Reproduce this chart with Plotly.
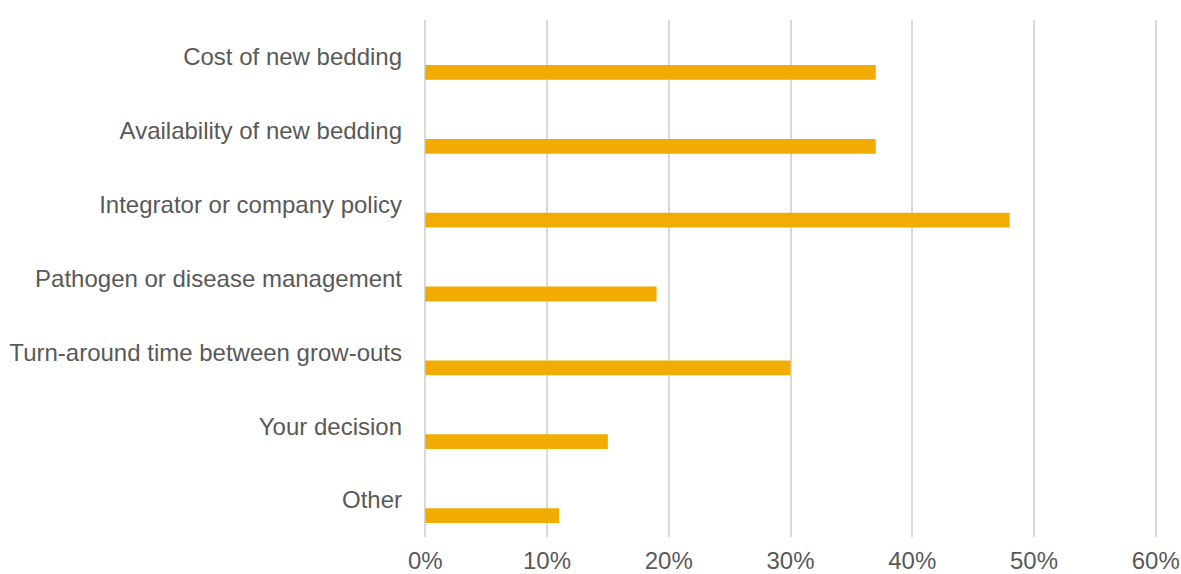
import plotly.graph_objects as go

categories = ["Cost of new bedding", "Availability of new bedding", "Integrator or company policy",
              "Pathogen or disease management", "Turn-around time between grow-outs",
              "Your decision", "Other"]
values = [37, 37, 48, 19, 30, 15, 11]
x_ticks = [0, 10, 20, 30, 40, 50, 60]
x_tick_labels = ["0%", "10%", "20%", "30%", "40%", "50%", "60%"]

fig = go.Figure()
fig.add_trace(go.Bar(
    y=categories, x=values, orientation="h",
    marker=dict(color="#f2ab00", line=dict(width=0)),
    width=0.2, offset=0.11,
    hoverinfo="x+y",
))
fig.update_layout(
    width=1181, height=574,
    margin=dict(l=424, r=24, t=20, b=37),
    paper_bgcolor="white", plot_bgcolor="white",
    font=dict(family="Liberation Sans, Arial, sans-serif", size=24, color="#595959"),
    showlegend=False,
    xaxis=dict(range=[-0.1, 60.1], tickvals=x_ticks, ticktext=x_tick_labels,
               showgrid=True, gridcolor="#d9d9d9", gridwidth=1.5,
               zeroline=True, zerolinecolor="#d9d9d9", zerolinewidth=1.5,
               showline=False, ticks="", ticklabelstandoff=7,
               automargin=False, fixedrange=True),
    yaxis=dict(type="category", categoryorder="array", categoryarray=categories,
               range=[6.5, -0.5], showgrid=False, zeroline=False, showline=False,
               ticks="", ticklabelstandoff=21, automargin=False, fixedrange=True),
)
fig.write_html("out.html")
